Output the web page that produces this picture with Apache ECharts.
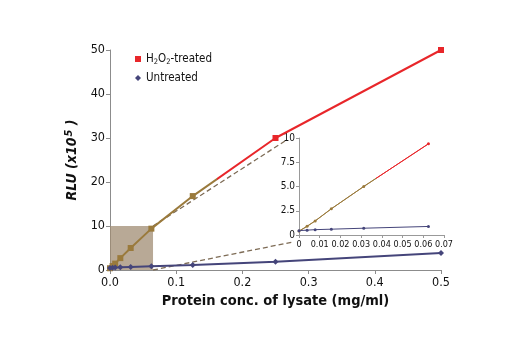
<!DOCTYPE html>
<html><head><meta charset="utf-8">
<script src="https://cdn.jsdelivr.net/npm/echarts@6/dist/echarts.min.js"></script>
<style>html,body{margin:0;padding:0;background:#fff}#c{width:520px;height:350px}</style>
</head><body><div id="c"></div>
<script>
// Data
var conc = [0, 0.0039, 0.0078, 0.0156, 0.03125, 0.0625, 0.125, 0.25, 0.5];
var treated = [0.4, 0.9, 1.45, 2.7, 5.0, 9.4, 16.8, 30, 50];
var untreated = [0.45, 0.5, 0.55, 0.6, 0.7, 0.88, 1.15, 1.9, 3.85];
var seriesNames = ['H2O2-treated', 'Untreated'];
var mainXTicks = [0, 0.1, 0.2, 0.3, 0.4, 0.5];
var mainYTicks = [0, 10, 20, 30, 40, 50];
var insetXTicks = [0, 0.01, 0.02, 0.03, 0.04, 0.05, 0.06, 0.07];
var insetYTicks = [0, 2.5, 5, 7.5, 10];
var zoomBoxX = [0, 0.065];
var zoomBoxY = [0, 10];
var insetMaxConc = 0.0625;
var oliveUntilMain = 0.162, oliveUntilInset = 0.037;

var FONT = '"DejaVu Sans Condensed","Liberation Sans Narrow","Liberation Sans",Arial,sans-serif';
var RED = '#e8262a', OLIVE = '#9a7a3c', NAVY = '#45457a', DASH = '#7d6b55';

function pairs(xs, ys, maxX) {
  var out = [];
  for (var i = 0; i < xs.length; i++) if (maxX == null || xs[i] <= maxX + 1e-9) out.push([xs[i], ys[i]]);
  return out;
}

var chart = echarts.init(document.getElementById('c'), null, {renderer: 'canvas'});
var option = {
  animation: false,
  backgroundColor: '#fff',
  textStyle: {fontFamily: FONT},
  grid: [
    {left: 110, right: 79, top: 50, bottom: 80},
    {left: 299, top: 138, width: 145, height: 97}
  ],
  legend: {
    orient: 'vertical', left: 130, top: 48, itemGap: 6, itemWidth: 6, itemHeight: 6,
    data: [{name: seriesNames[0], icon: 'rect', itemStyle: {color: RED}},
           {name: seriesNames[1], icon: 'diamond', itemStyle: {color: NAVY}}],
    textStyle: {fontFamily: FONT, fontSize: 11.5, color: '#111',
      rich: {a: {fontFamily: FONT, fontSize: 11.5, color: '#111'},
             s: {fontFamily: FONT, fontSize: 7.5, color: '#111', padding: [6, 0, 0, 0]}}},
    formatter: function (n) {
      if (n === seriesNames[0]) return '{a|H}{s|2}{a|O}{s|2}{a|-treated}';
      return '{a|' + n + '}';
    }
  },
  xAxis: [
    {gridIndex: 0, type: 'value', min: mainXTicks[0], max: mainXTicks[mainXTicks.length - 1], interval: 0.1,
     splitLine: {show: false},
     axisLine: {onZero: false, lineStyle: {color: '#8c8c8c', width: 1}},
     axisTick: {show: true, length: 4, lineStyle: {color: '#8c8c8c'}},
     axisLabel: {fontFamily: FONT, fontSize: 12.5, color: '#111', margin: 6,
       formatter: function (v) { return v.toFixed(1); }},
     name: 'Protein conc. of lysate (mg/ml)', nameLocation: 'middle', nameGap: 22,
     nameTextStyle: {fontFamily: FONT, fontSize: 14.5, fontWeight: 'bold', color: '#111'}},
    {gridIndex: 1, type: 'value', min: 0, max: insetXTicks[insetXTicks.length - 1], interval: 0.01,
     splitLine: {show: false},
     axisLine: {onZero: false, lineStyle: {color: '#999', width: 1}},
     axisTick: {show: true, length: 3, lineStyle: {color: '#999'}},
     axisLabel: {fontFamily: FONT, fontSize: 9, color: '#111', margin: 5, showMaxLabel: true, hideOverlap: false,
       formatter: function (v) { return v === 0 ? '0' : v.toFixed(2); }}}
  ],
  yAxis: [
    {gridIndex: 0, type: 'value', min: mainYTicks[0], max: mainYTicks[mainYTicks.length - 1], interval: 10,
     splitLine: {show: false},
     axisLine: {show: true, lineStyle: {color: '#8c8c8c', width: 1}},
     axisTick: {show: true, length: 4, lineStyle: {color: '#8c8c8c'}},
     axisLabel: {fontFamily: FONT, fontSize: 12.5, color: '#111', margin: 5},
     name: '{t|RLU (x10}{p|5}{t| )}', nameLocation: 'middle', nameRotate: 90, nameGap: 28,
     nameTextStyle: {fontFamily: FONT, fontSize: 14, fontWeight: 'bold', fontStyle: 'italic', color: '#111',
       rich: {t: {fontFamily: FONT, fontSize: 14, fontWeight: 'bold', fontStyle: 'italic', color: '#111'},
              p: {fontFamily: FONT, fontSize: 11, fontWeight: 'bold', fontStyle: 'italic', color: '#111', padding: [0, 0, 7, 1]}}}},
    {gridIndex: 1, type: 'value', min: 0, max: insetYTicks[insetYTicks.length - 1], interval: 2.5,
     splitLine: {show: false},
     axisLine: {show: true, lineStyle: {color: '#999', width: 1}},
     axisTick: {show: true, length: 3, lineStyle: {color: '#999'}},
     axisLabel: {fontFamily: FONT, fontSize: 10, color: '#111', margin: 4,
       formatter: function (v) { return (v === 0 || v === 10) ? String(v) : v.toFixed(1); }}}
  ],
  series: [
    {name: seriesNames[0], type: 'line', xAxisIndex: 0, yAxisIndex: 0, data: pairs(conc, treated),
     symbol: 'rect', symbolSize: 6, showAllSymbol: true, z: 3,
     lineStyle: {color: RED, width: 2},
     itemStyle: {color: function (p) { return p.value[0] < oliveUntilMain ? OLIVE : RED; }},
     markArea: {silent: true, itemStyle: {color: 'rgba(160,140,115,0.75)'},
       data: [[{coord: [zoomBoxX[0], zoomBoxY[0]]}, {coord: [zoomBoxX[1], zoomBoxY[1]]}]]}},
    {name: seriesNames[1], type: 'line', xAxisIndex: 0, yAxisIndex: 0, data: pairs(conc, untreated),
     symbol: 'diamond', symbolSize: 6, z: 3,
     lineStyle: {color: NAVY, width: 2}, itemStyle: {color: NAVY}},
    {name: 'insetT', type: 'line', xAxisIndex: 1, yAxisIndex: 1, data: pairs(conc, treated, insetMaxConc),
     symbol: 'circle', symbolSize: 3, lineStyle: {color: RED, width: 1},
     itemStyle: {color: function (p) { return p.value[0] < oliveUntilInset ? OLIVE : RED; }}},
    {name: 'insetU', type: 'line', xAxisIndex: 1, yAxisIndex: 1, data: pairs(conc, untreated, insetMaxConc),
     symbol: 'circle', symbolSize: 3, lineStyle: {color: NAVY, width: 1}, itemStyle: {color: NAVY}}
  ]
};
chart.setOption(option);

function splitGradient(gridIndex, xSplit) {
  var a = chart.convertToPixel({gridIndex: gridIndex}, [0, 0])[0];
  var b = chart.convertToPixel({gridIndex: gridIndex}, [xSplit, 0])[0];
  var c = a + 1000;
  var t = (b - a) / (c - a);
  return new echarts.graphic.LinearGradient(a, 0, c, 0, [
    {offset: 0, color: OLIVE}, {offset: t, color: OLIVE},
    {offset: t, color: RED}, {offset: 1, color: RED}], true);
}

var boxTop = chart.convertToPixel({gridIndex: 0}, [zoomBoxX[1], zoomBoxY[1]]);
var boxBot = chart.convertToPixel({gridIndex: 0}, [zoomBoxX[1], zoomBoxY[0]]);
var inTop = chart.convertToPixel({gridIndex: 1}, [0, insetYTicks[insetYTicks.length - 1]]);
var inBot = chart.convertToPixel({gridIndex: 1}, [0, 0]);
chart.setOption({
  series: [
    {name: seriesNames[0], lineStyle: {color: splitGradient(0, oliveUntilMain)}},
    {name: seriesNames[1]},
    {name: 'insetT', lineStyle: {color: splitGradient(1, oliveUntilInset)}},
    {name: 'insetU'}
  ],
  graphic: [
    {type: 'line', z: 2, shape: {x1: boxTop[0], y1: boxTop[1], x2: inTop[0] - 14, y2: inTop[1] + 3},
     style: {stroke: DASH, lineWidth: 1.3, lineDash: [5, 3]}},
    {type: 'line', z: 2, shape: {x1: boxBot[0], y1: boxBot[1], x2: inBot[0] - 6, y2: inBot[1] + 7},
     style: {stroke: DASH, lineWidth: 1.3, lineDash: [5, 3]}}
  ]
});
</script>
</body></html>
